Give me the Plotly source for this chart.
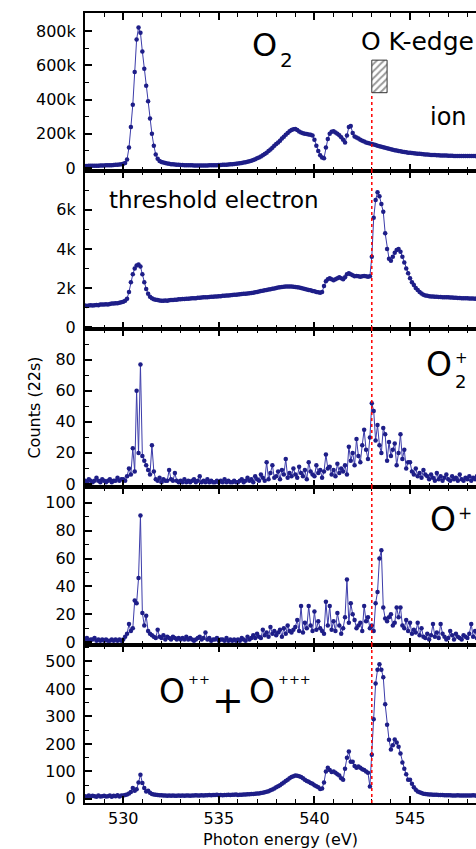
import numpy as np
import plotly.graph_objects as go
from plotly.subplots import make_subplots

# ---------------- data (photon-energy grid, 0.1 eV steps) ----------------
E_START, E_STEP, N_PTS = 528.0, 0.1, 206
energy = np.round(E_START + E_STEP * np.arange(N_PTS), 2)

# total ion yield (in thousands of counts)
ion_k = [
    12, 12, 13, 13, 13, 14, 14, 14, 15, 15,
    15, 16, 16, 17, 17, 18, 19, 20, 21, 23,
    25, 30, 50, 120, 240, 370, 560, 750, 820, 790,
    680, 580, 480, 390, 290, 200, 130, 80, 55, 42,
    36, 32, 29, 27, 25, 23, 22, 21, 20, 19,
    18, 18, 17, 17, 16, 16, 16, 15, 15, 15,
    15, 15, 15, 15, 15, 16, 16, 16, 17, 17,
    18, 18, 19, 20, 20, 21, 22, 23, 24, 25,
    27, 28, 30, 32, 34, 37, 40, 43, 47, 52,
    57, 62, 68, 75, 82, 90, 99, 108, 118, 130,
    140, 150, 160, 172, 183, 195, 205, 215, 222, 226,
    228, 222, 214, 208, 204, 201, 199, 196, 194, 190,
    165, 130, 100, 75, 62, 58, 120, 170, 200, 212,
    215, 208, 200, 192, 180, 165, 150, 190, 240, 245,
    205, 185, 178, 172, 166, 160, 155, 150, 146, 143,
    140, 137, 134, 131, 128, 125, 122, 119, 116, 113,
    110, 107, 104, 102, 100, 98, 96, 94, 92, 90,
    89, 88, 86, 85, 84, 83, 82, 81, 80, 79,
    78, 77, 76, 76, 75, 75, 74, 74, 73, 73,
    72, 72, 72, 71, 71, 71, 71, 70, 70, 70,
    70, 70, 70, 70, 70, 70,
]

# threshold electron yield (in thousands of counts)
thr_k = [
    1.10, 1.08, 1.10, 1.12, 1.10, 1.12, 1.13, 1.12, 1.15, 1.15,
    1.15, 1.17, 1.16, 1.18, 1.20, 1.20, 1.22, 1.22, 1.25, 1.27,
    1.30, 1.35, 1.45, 1.80, 2.30, 2.70, 3.00, 3.15, 3.20, 3.10,
    2.70, 2.30, 1.95, 1.70, 1.55, 1.48, 1.42, 1.40, 1.38, 1.36,
    1.35, 1.35, 1.36, 1.35, 1.37, 1.38, 1.38, 1.40, 1.40, 1.42,
    1.42, 1.43, 1.44, 1.45, 1.45, 1.46, 1.47, 1.48, 1.48, 1.50,
    1.50, 1.51, 1.52, 1.52, 1.53, 1.54, 1.55, 1.55, 1.56, 1.57,
    1.58, 1.58, 1.60, 1.60, 1.62, 1.62, 1.63, 1.64, 1.65, 1.66,
    1.67, 1.68, 1.69, 1.70, 1.71, 1.72, 1.73, 1.74, 1.76, 1.78,
    1.80, 1.82, 1.84, 1.86, 1.88, 1.90, 1.92, 1.94, 1.96, 1.98,
    2.00, 2.02, 2.04, 2.05, 2.06, 2.07, 2.08, 2.08, 2.07, 2.06,
    2.05, 2.04, 2.02, 2.00, 1.98, 1.95, 1.92, 1.90, 1.88, 1.85,
    1.83, 1.80, 1.78, 1.76, 1.80, 2.10, 2.35, 2.45, 2.50, 2.45,
    2.40, 2.45, 2.50, 2.55, 2.50, 2.45, 2.55, 2.70, 2.75, 2.70,
    2.65, 2.60, 2.62, 2.60, 2.58, 2.60, 2.62, 2.60, 2.58, 2.60,
    3.60, 5.60, 6.50, 6.90, 6.70, 6.30, 5.90, 4.80, 4.00, 3.50,
    3.40, 3.60, 3.80, 3.95, 4.00, 3.85, 3.60, 3.30, 3.00, 2.75,
    2.50, 2.30, 2.15, 2.00, 1.90, 1.80, 1.72, 1.66, 1.62, 1.60,
    1.58, 1.57, 1.56, 1.55, 1.55, 1.54, 1.54, 1.53, 1.53, 1.52,
    1.52, 1.51, 1.51, 1.50, 1.50, 1.49, 1.49, 1.48, 1.48, 1.47,
    1.47, 1.46, 1.46, 1.46, 1.45, 1.45,
]

# O2+ coincidence counts
o2p = [
    2, 1, 3, 2, 1, 2, 4, 2, 1, 3,
    2, 1, 2, 3, 1, 2, 2, 4, 2, 3,
    3, 2, 5, 10, 6, 23, 8, 60, 20, 77,
    18, 15, 12, 9, 6, 25, 8, 3, 2, 4,
    1, 3, 2, 2, 9, 3, 2, 7, 2, 1,
    2, 1, 3, 1, 2, 1, 2, 3, 1, 2,
    5, 1, 2, 1, 3, 1, 2, 1, 1, 2,
    1, 2, 1, 3, 1, 2, 1, 1, 2, 1,
    1, 2, 3, 1, 2, 4, 2, 3, 1, 5,
    3, 2, 6, 4, 2, 14, 3, 7, 12, 4,
    5, 8, 3, 9, 6, 16, 4, 7, 5, 10,
    6, 4, 11, 7, 5, 9, 3, 14, 8, 6,
    5, 12, 7, 9, 4, 8, 19, 10, 11, 6,
    9, 5, 13, 7, 10, 8, 12, 6, 24, 15,
    20, 12, 29, 18, 14, 25, 35, 22, 16, 30,
    52, 47, 28, 38, 25, 20, 36, 32, 15, 27,
    18, 22, 26, 12, 20, 32, 16, 22, 10, 14,
    14, 8, 6, 10, 5, 7, 4, 9, 6, 5,
    3, 6, 4, 2, 7, 3, 5, 2, 4, 6,
    3, 2, 5, 3, 4, 2, 6, 3, 2, 4,
    3, 5, 2, 4, 3, 5,
]

# O+ coincidence counts
op = [
    2, 3, 1, 2, 2, 3, 1, 2, 1, 2,
    1, 2, 1, 1, 2, 1, 2, 1, 2, 1,
    2, 4, 6, 13, 8, 10, 30, 28, 46, 91,
    21, 12, 19, 8, 6, 5, 4, 3, 9, 4,
    3, 5, 2, 4, 3, 2, 4, 3, 2, 3,
    2, 3, 2, 4, 2, 3, 2, 1, 2, 3,
    4, 2, 3, 7, 2, 3, 1, 2, 2, 3,
    1, 2, 2, 1, 3, 1, 2, 1, 2, 1,
    2, 1, 3, 2, 1, 4, 2, 3, 5, 3,
    6, 4, 3, 9, 5, 7, 4, 11, 6, 8,
    5, 7, 9, 4, 10, 6, 12, 8, 7, 9,
    11, 16, 8, 26, 7, 14, 10, 26, 12, 8,
    22, 9, 15, 10, 8, 6, 29, 12, 26, 9,
    15, 8, 21, 12, 6, 10, 18, 45, 14, 28,
    20, 16, 10, 12, 14, 8, 26, 15, 18, 10,
    12, 8, 28, 36, 60, 66, 25, 17, 15, 18,
    20, 12, 14, 25, 18, 25, 12, 10, 16, 8,
    14, 6, 9, 7, 14, 5, 10, 4, 3, 6,
    2, 5, 13, 4, 7, 3, 13, 6, 4, 2,
    3, 8, 5, 2, 6, 4, 3, 2, 5, 4,
    3, 6, 13, 4, 8, 3,
]

# O++ + O+++ coincidence counts
opp = [
    10, 8, 12, 9, 11, 10, 8, 12, 9, 10,
    11, 9, 10, 12, 8, 11, 10, 13, 9, 12,
    12, 14, 16, 20, 25, 40, 30, 35, 60, 88,
    58, 40, 27, 30, 22, 18, 16, 15, 14, 13,
    13, 12, 12, 11, 12, 11, 12, 11, 11, 12,
    11, 12, 11, 12, 12, 11, 12, 12, 13, 12,
    12, 13, 12, 13, 13, 14, 13, 14, 14, 15,
    13, 14, 13, 14, 14, 15, 14, 15, 15, 16,
    14, 15, 15, 16, 16, 17, 17, 18, 18, 19,
    20, 20, 21, 22, 24, 26, 28, 31, 34, 38,
    42, 46, 50, 55, 60, 65, 70, 75, 80, 82,
    85, 84, 82, 80, 75, 70, 65, 62, 58, 55,
    50, 46, 42, 36, 38, 60, 100, 113, 105, 98,
    100, 95, 90, 85, 75, 70, 110, 150, 172, 135,
    135, 120, 113, 118, 113, 108, 105, 100, 95, 45,
    161, 290, 420, 470, 490, 470, 443, 344, 270, 215,
    180, 195, 216, 205, 190, 165, 132, 110, 90, 70,
    70, 55, 42, 33, 27, 24, 21, 19, 18, 17,
    16, 16, 15, 15, 15, 14, 14, 14, 13, 13,
    13, 13, 12, 12, 12, 13, 12, 12, 12, 12,
    12, 12, 12, 13, 12, 12,
]

ion = [v * 1000 for v in ion_k]
thr = [v * 1000 for v in thr_k]
series = [ion, thr, o2p, op, opp]

K_EDGE = 543.0              # O K-edge energy (eV)
EDGE_BOX = (543.0, 543.8, 440e3, 630e3)  # x0, x1, y0, y1 of hatched marker

x_ticks = [530, 535, 540, 545]

# --------------------------- figure ---------------------------
FONT = "DejaVu Sans"
NAVY = "#1e1e88"
LINE = "#3c3caa"

fig = make_subplots(rows=5, cols=1, shared_xaxes=True, vertical_spacing=0)

for i, ys in enumerate(series, start=1):
    fig.add_trace(go.Scatter(
        x=energy, y=ys, mode="lines+markers",
        line=dict(color=LINE, width=1),
        marker=dict(color=NAVY, size=4.5, symbol="circle"),
        showlegend=False, hoverinfo="skip"), row=i, col=1)

# hatched K-edge marker
fig.add_trace(go.Bar(
    x=[(EDGE_BOX[0] + EDGE_BOX[1]) / 2], y=[EDGE_BOX[3] - EDGE_BOX[2]],
    base=[EDGE_BOX[2]], width=[EDGE_BOX[1] - EDGE_BOX[0]],
    marker=dict(color="white", line=dict(color="#333", width=1),
                pattern=dict(shape="/", fgcolor="#333", bgcolor="white",
                             size=5, solidity=0.4)),
    showlegend=False, hoverinfo="skip"), row=1, col=1)

y_ranges = [[-17e3, 905e3], [-100, 7990], [-2, 99.9], [-2, 111.4], [-15, 560]]
y_dticks = [200e3, 2000, 20, 20, 100]

tickfont = dict(family=FONT, size=16, color="black")
for i in range(1, 6):
    fig.update_xaxes(
        row=i, col=1, range=[528.0, 548.45], showgrid=False, zeroline=False,
        showline=True, linecolor="black", linewidth=2, mirror="ticks",
        ticks="inside", ticklen=7, tickwidth=1.5, tickcolor="black",
        tickvals=x_ticks, showticklabels=(i == 5), tickfont=tickfont,
        minor=dict(dtick=1, tick0=528, ticks="inside", ticklen=4,
                   tickwidth=1.2, tickcolor="black"))
    fig.update_yaxes(
        row=i, col=1, range=y_ranges[i - 1], showgrid=False, zeroline=False,
        showline=True, linecolor="black", linewidth=2, mirror=False,
        ticks="inside", ticklen=7, tickwidth=1.5, tickcolor="black",
        tick0=0, dtick=y_dticks[i - 1], tickformat="~s", tickfont=tickfont,
        ticklabelstandoff=4, automargin=False,
        minor=dict(dtick=y_dticks[i - 1] / 2, ticks="inside", ticklen=4,
                   tickwidth=1.2, tickcolor="black"))

fig.update_xaxes(row=5, col=1, automargin=False, title=dict(
    text="Photon energy (eV)", font=dict(family=FONT, size=16, color="black"),
    standoff=9))

# red dotted K-edge line
red = dict(color="red", width=1.5, dash="dot")
fig.add_shape(type="line", x0=K_EDGE, x1=K_EDGE, xref="x", yref="y",
              y0=y_ranges[0][0], y1=EDGE_BOX[2], line=red, layer="above")
for i in range(2, 6):
    fig.add_shape(type="line", x0=K_EDGE, x1=K_EDGE, xref="x",
                  yref=f"y{i} domain", y0=0, y1=1, line=red, layer="above")

def txt(text, x, y, yref, size, xanchor="left"):
    fig.add_annotation(text=text, x=x, y=y, xref="x", yref=yref,
                       showarrow=False, xanchor=xanchor, yanchor="middle",
                       font=dict(family=FONT, size=size, color="black"))

# O2
txt("O", 536.64, 718e3, "y", 32)
txt("2", 538.1, 630e3, "y", 20)
txt("O K-edge", 542.34, 736e3, "y", 25)
txt("ion", 545.94, 298e3, "y", 24)
txt("threshold electron", 529.16, 6530, "y2", 23)
# O2+
txt("O", 545.73, 76.7, "y3", 33)
txt("2", 547.25, 66, "y3", 18)
txt("+", 547.25, 81.5, "y3", 15)
# O+
txt("O", 545.94, 87.9, "y4", 33)
txt("+", 547.4, 93, "y4", 17)
# O++ + O+++
txt("O", 531.77, 392, "y5", 33)
txt("++", 533.28, 436, "y5", 13)
txt("+", 535.48, 359, "y5", 38, "center")
txt("O", 536.47, 392, "y5", 33)
txt("+++", 538.0, 436, "y5", 13)

fig.add_annotation(text="Counts (22s)", x=-0.161, y=0.5, xref="paper",
                   yref="paper", showarrow=False, textangle=-90,
                   font=dict(family=FONT, size=16, color="black"))

fig.update_layout(
    width=476, height=849, margin=dict(l=85, r=0, t=13, b=46),
    paper_bgcolor="white", plot_bgcolor="white", showlegend=False)

fig.write_html("out.html", config={"displayModeBar": False},
               post_script="document.body.style.margin='0px';"
                           "document.body.style.overflow='hidden';")
